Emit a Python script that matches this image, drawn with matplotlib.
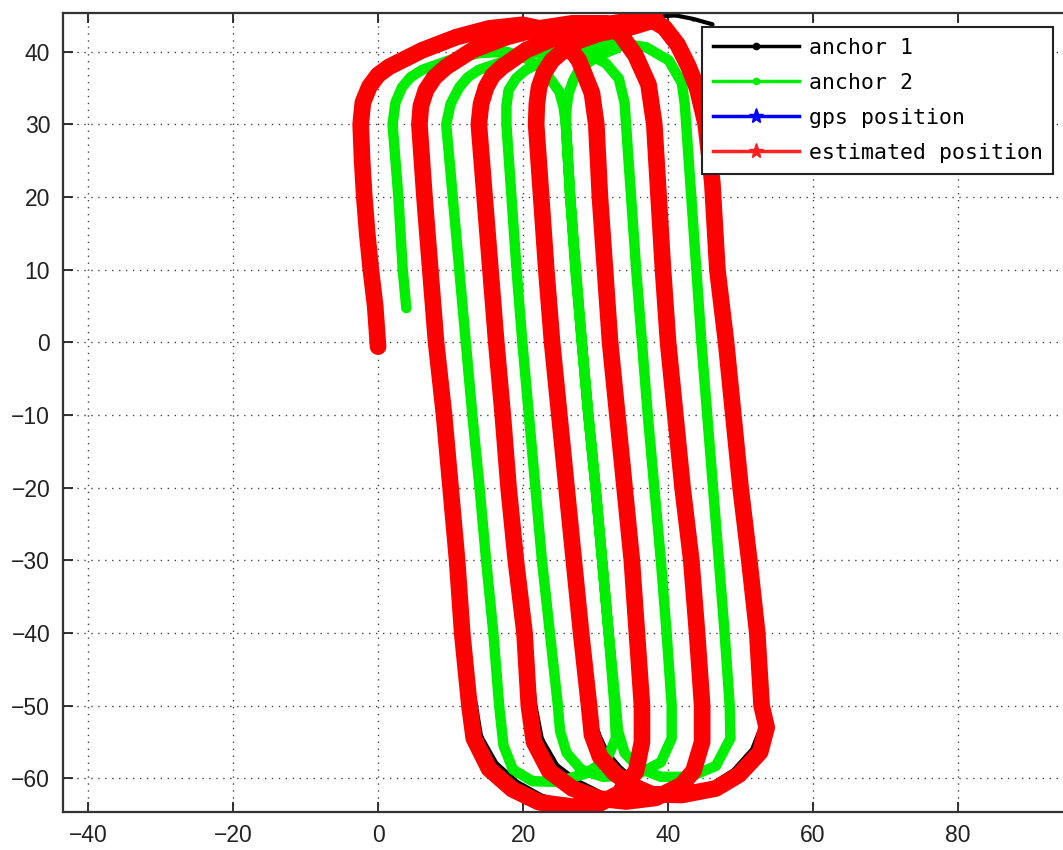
import matplotlib
matplotlib.use("Agg")
import matplotlib.pyplot as plt
from matplotlib.lines import Line2D

# ---------------- data ----------------
x_ticks = [-40, -20, 0, 20, 40, 60, 80]
y_ticks = [-60, -50, -40, -30, -20, -10, 0, 10, 20, 30, 40]
series_labels = ["anchor 1", "anchor 2", "gps position", "estimated position"]

# estimated position (red)
est_x = [0.0, -0.4, -1.0, -1.5, -1.9, -2.2, -2.4, -2.1,
         -1.2, 0.0, 1.5, 6.1, 10.8, 15.3, 19.9, 23.2, 25.9, 27.7, 29.5,
         30.1, 30.6, 31.3, 32.0, 33.0, 34.0, 35.0, 35.7, 36.4,
         36.4, 35.6, 33.2, 30.5, 26.8, 22.2, 18.5, 15.3, 13.2,
         12.6, 12.1, 11.6, 10.9, 10.0, 9.1, 8.0, 7.2, 6.4, 5.7, 5.9,
         6.6, 7.8, 9.4, 13.0, 17.7, 22.2, 26.8, 31.4, 33.5, 35.5, 37.3,
         38.1, 38.7, 39.3, 40.0, 41.0, 42.0, 43.2, 44.0, 44.7,
         44.7, 43.5, 41.9, 38.3, 34.2, 30.5, 26.8, 23.6, 21.5,
         20.8, 20.2, 19.0, 18.0, 17.2, 16.3, 15.5, 14.7, 13.9, 14.2,
         14.9, 15.8, 17.1, 20.4, 24.6, 29.1, 33.7, 37.4, 39.5, 41.3, 42.8, 44.0,
         45.2, 46.1, 46.8, 48.0, 49.0, 50.0, 51.2, 52.3, 52.9,
         53.6, 52.7, 49.8, 46.6, 41.9, 37.8, 35.0, 32.6, 30.6, 29.5,
         29.1, 28.0, 27.0, 26.0, 25.0, 24.0, 23.2, 22.5, 21.8, 21.9,
         22.2, 22.9, 24.0, 26.8, 30.5, 35.0, 38.3]
est_y = [-0.6, 5, 10, 15, 20, 25, 30, 33.0,
         35.2, 36.8, 37.9, 40.2, 42.0, 43.2, 43.7, 43.0, 41.2, 38.8, 34.3,
         30, 20, 10, 0, -10, -20, -30, -40, -50,
         -55, -59, -62.1, -63.5, -63.9, -63.3, -61.5, -58.7, -54.5,
         -50, -45, -40, -30, -20, -10, 0, 10, 20, 30, 32.5,
         34.7, 36.5, 37.9, 40.2, 42.0, 43.2, 43.9, 43.9, 42.3, 39.5, 35.5,
         30, 20, 10, 0, -10, -20, -30, -40, -50,
         -55, -59, -60.9, -62.7, -63.2, -62.8, -61.4, -59, -55,
         -50, -40, -30, -20, -10, 0, 10, 20, 30, 32.8,
         35.1, 36.7, 37.9, 40.2, 42.0, 43.4, 44.1, 44.6, 43.3, 41.0, 38.0, 35.0,
         30, 22, 10, 0, -10, -20, -30, -40, -50,
         -53, -56.4, -59.5, -61.4, -62.3, -62.2, -61.0, -59.3, -57.0, -54.0,
         -50, -40, -30, -20, -10, 0, 10, 20, 30, 32.8,
         35.1, 37.1, 38.8, 41.2, 42.5, 43.4, 44.4]

# gps position (blue) - practically identical to the estimate
gps_x = list(est_x)
gps_y = list(est_y)

# anchor 1 (black) - mostly hidden under the estimate
anchor1_x = [0.0, -0.4, -1.0, -1.5, -1.9, -2.2, -2.4, -2.1,
             -1.2, 0.0, 1.5, 6.1, 10.8, 15.3, 19.9, 23.2, 25.9, 27.7, 29.5,
             30.1, 30.6, 31.3, 32.0, 33.0, 34.0, 35.0, 35.7, 36.4,
             36.3, 35.4, 33.0, 30.3, 26.8, 22.6, 19.2, 16.3, 14.2,
             13.5, 12.6, 11.8, 10.9, 10.0, 9.1, 8.0, 7.2, 6.4, 5.7, 5.9,
             6.6, 7.8, 9.4, 13.0, 17.7, 22.2, 26.8, 31.4, 33.5, 35.5, 37.3,
             38.1, 38.7, 39.3, 40.0, 41.0, 42.0, 43.2, 44.0, 44.7,
             44.6, 43.4, 41.8, 38.3, 34.2, 30.8, 27.6, 24.7, 22.6,
             21.7, 20.6, 19.0, 18.0, 17.2, 16.3, 15.5, 14.7, 13.9, 14.2,
             14.9, 15.8, 17.1, 20.4, 24.6, 29.1, 33.7, 37.4, 39.5, 41.3, 42.8, 44.0,
             45.2, 46.1, 46.8, 48.0, 49.0, 50.0, 51.2, 52.3, 52.7,
             52.8, 51.6, 49.0, 46.0, 41.9, 37.9, 35.6, 33.5, 31.6, 30.3,
             29.6, 28.2, 27.0, 26.0, 25.0, 24.0, 23.2, 22.5, 21.8, 21.9,
             22.2, 22.9, 24.0, 26.8, 30.5, 35.0, 38.6, 41.0, 43.5, 46.0]
anchor1_y = [-0.6, 5, 10, 15, 20, 25, 30, 33.0,
             35.2, 36.8, 37.9, 40.2, 42.0, 43.2, 43.7, 43.0, 41.2, 38.8, 34.3,
             30, 20, 10, 0, -10, -20, -30, -40, -50,
             -55, -58.8, -61.8, -63.2, -63.5, -62.4, -60.5, -57.9, -54.2,
             -50, -45, -40, -30, -20, -10, 0, 10, 20, 30, 32.5,
             34.7, 36.5, 37.9, 40.2, 42.0, 43.2, 43.9, 43.9, 42.3, 39.5, 35.5,
             30, 20, 10, 0, -10, -20, -30, -40, -50,
             -55, -58.8, -60.7, -62.5, -62.9, -62.0, -60.4, -58.2, -54.6,
             -50, -40, -30, -20, -10, 0, 10, 20, 30, 32.8,
             35.1, 36.7, 37.9, 40.2, 42.0, 43.4, 44.1, 44.6, 43.3, 41.0, 38.0, 35.0,
             30, 22, 10, 0, -10, -20, -30, -40, -50,
             -53, -56.0, -58.9, -60.8, -61.8, -61.6, -60.3, -58.6, -56.4, -53.6,
             -50, -40, -30, -20, -10, 0, 10, 20, 30, 32.8,
             35.1, 37.1, 38.8, 41.2, 42.5, 43.4, 44.8, 45.0, 44.5, 43.8]

# anchor 2 (green)
anchor2_x = [3.9, 3.4, 2.8, 2.0, 2.4,
             3.3, 4.5, 6.1, 9.8, 13.9, 17.7, 20.6, 23.0, 25.0, 25.6,
             25.9, 26.5, 27.3, 28.1, 29.0, 30.0, 30.9, 31.8, 32.6,
             32.8, 31.5, 28.5, 24.6, 21.3, 18.6, 17.3,
             16.7, 15.9, 14.9, 14.0, 13.0, 12.1, 11.2, 10.3, 9.4, 10.0,
             11.2, 12.4, 13.9, 17.7, 21.2, 25.0, 28.7, 31.4, 33.2, 34.0,
             34.2, 34.9, 35.6, 36.4, 37.2, 38.1, 39.0, 39.8, 40.5,
             40.5, 39.0, 35.5, 31.0, 28.0, 26.0, 25.1,
             24.8, 23.7, 22.6, 21.7, 20.8, 19.9, 19.1, 18.4, 17.7, 17.7,
             18.0, 19.0, 20.4, 24.0, 28.7, 33.2, 37.0, 40.1, 41.9, 42.3,
             42.5, 43.2, 43.9, 44.6, 45.4, 46.2, 47.0, 47.8, 48.5,
             48.6, 46.6, 43.0, 39.0, 36.0, 34.0, 33.1,
             32.8, 31.8, 30.9, 30.0, 29.0, 28.1, 27.2, 26.5, 25.9, 26.0,
             26.3, 26.9, 27.7, 30.1, 33.0]
anchor2_y = [4.7, 10, 20, 30, 33.0,
             35.1, 36.5, 37.5, 38.8, 39.8, 40.0, 39.0, 37.3, 34.5, 32.3,
             30, 20, 10, 0, -10, -20, -30, -40, -50,
             -54.5, -57.5, -59.4, -60.5, -60.4, -58.8, -55.5,
             -50, -40, -30, -20, -10, 0, 10, 20, 30, 32.8,
             35.1, 36.5, 37.5, 38.8, 39.8, 40.2, 39.8, 38.4, 36.3, 33.0,
             30, 20, 10, 0, -10, -20, -30, -40, -50,
             -54.5, -57.8, -59.6, -59.8, -58.8, -56.5, -53.5,
             -50, -40, -30, -20, -10, 0, 10, 20, 30, 32.5,
             34.7, 36.3, 37.5, 39.3, 40.6, 41.2, 40.6, 38.8, 35.7, 32.8,
             30, 20, 10, 0, -10, -20, -30, -40, -50,
             -54.5, -58.3, -59.8, -59.8, -58.6, -56.5, -53.5,
             -50, -40, -30, -20, -10, 0, 10, 20, 30, 32.3,
             34.3, 36.0, 37.5, 39.3, 40.5]

# ---------------- figure ----------------
plt.rcParams["font.family"] = ["Liberation Sans", "DejaVu Sans"]

W, H = 1063, 850
fig = plt.figure(figsize=(W / 100, H / 100), dpi=100)
x0, x1 = -43.5, 100.0
y0, y1 = -64.6, 45.28
left_px, right_px = 62.7, 62.7 + (x1 - x0) * 7.25
top_px, bot_px = 13.3, 811.7
ax = fig.add_axes([left_px / W, 1 - bot_px / H,
                   (right_px - left_px) / W, (bot_px - top_px) / H])

line_kw = dict(solid_capstyle="round", solid_joinstyle="round")
ax.plot(anchor1_x, anchor1_y, color="black", lw=3.0, marker=".", ms=4, **line_kw)
ax.plot(anchor2_x, anchor2_y, color="#00ee00", lw=7.5, **line_kw)
ax.plot(gps_x, gps_y, color="blue", lw=2.0, marker="*", ms=4, **line_kw)
ax.plot(est_x, est_y, color="#ff0000", lw=12.0, **line_kw)

ax.set_xlim(x0, x1)
ax.set_ylim(y0, y1)
ax.set_xticks(x_ticks)
ax.set_yticks(y_ticks)
ax.grid(True, linestyle=(0, (1, 4)), color="#444444", linewidth=1.0)
ax.tick_params(direction="in", length=7, width=1.3, top=True, right=True,
               labelsize=16.5, pad=9, colors="#222222")
for s in ax.spines.values():
    s.set_linewidth(1.6)
    s.set_color("#333333")

handles = [
    Line2D([], [], color="black", lw=2.5, marker=".", ms=9),
    Line2D([], [], color="#00ee00", lw=2.5, marker=".", ms=9),
    Line2D([], [], color="blue", lw=2.5, marker="*", ms=11),
    Line2D([], [], color="#ff2020", lw=2.5, marker="*", ms=11),
]
leg = fig.legend(handles, series_labels, loc="upper left",
                 bbox_to_anchor=(702 / W, 1 - 27 / H),
                 prop={"family": "DejaVu Sans Mono", "size": 15.5},
                 handlelength=4.0, handletextpad=0.45, labelspacing=0.7,
                 borderpad=0.5, fancybox=False, framealpha=1.0,
                 edgecolor="#222222", borderaxespad=0)
leg.get_frame().set_linewidth(1.5)

fig.savefig("out.png", dpi=100)
